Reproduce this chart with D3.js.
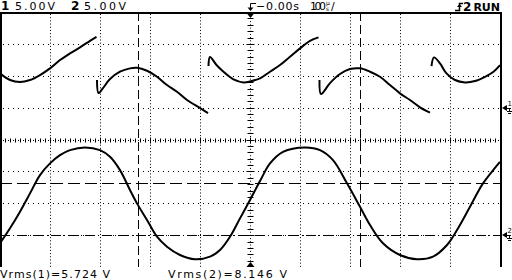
<!DOCTYPE html>
<html>
<head>
<meta charset="utf-8">
<script src="https://cdn.jsdelivr.net/npm/d3@7"></script>
<style>
  body { margin: 0; background: #fff; }
  svg { display: block; }
  text { font-family: "DejaVu Sans", sans-serif; fill: #000; }
</style>
</head>
<body>
<svg id="scope" width="512" height="280"></svg>
<script>
// time base 100us/div, both channels 5V/div
const timeRange = [-500, 500]
const ch1Range = [-25, 15]   // volts, bottom -> top of screen
const ch2Range = [-5, 35]

// channel 1 trace (us, V) - split where the trace jumps
const ch1Seg1 = [[-500, 5.37], [-480, 4.33], [-460, 4.01], [-440, 4.33], [-420, 5.11], [-400, 6.16], [-380, 7.46], [-360, 8.51], [-340, 9.45], [-320, 10.48], [-307, 11.11]]
const ch1Seg2 = [[-306, 4.33], [-303, 2.29], [-294, 3.07], [-280, 4.48], [-260, 5.63], [-240, 6.16], [-226, 6.25], [-206, 5.78], [-186, 4.84], [-166, 3.54], [-146, 2.49], [-126, 1.19], [-100, -0.06], [-84, -0.85]]
const ch1Seg3 = [[-83, 6.52], [-80, 7.93], [-67, 6.68], [-53, 5.63], [-33, 4.43], [-13, 3.96], [3, 4.17], [20, 4.59], [40, 5.63], [60, 6.68], [80, 7.98], [100, 9.29], [120, 10.48], [137, 11.02]]
const ch1Seg4 = [[139, 4.33], [142, 2.13], [160, 3.85], [180, 5.27], [200, 6.05], [220, 6.16], [240, 5.63], [260, 4.84], [280, 3.54], [300, 2.24], [320, 1.19], [340, 0.05], [360, -0.80]]
const ch1Seg5 = [[363, 6.52], [368, 7.88], [380, 6.94], [393, 5.37], [410, 4.33], [430, 3.96], [450, 4.17], [470, 4.84], [487, 5.63], [500, 6.68]]

// channel 2 trace
const ch2Time = [-500, -480, -460, -440, -420, -400, -380, -360, -330, -300, -280, -260, -240, -226, -206, -186, -166, -140, -110, -80, -60, -40, -20, 0, 20, 40, 66, 110, 140, 166, 194, 220, 240, 266, 300, 334, 366, 394, 414, 440, 466, 500]
const ch2Volts = [-1.28, 1.07, 3.67, 6.55, 9.42, 11.25, 12.55, 13.34, 13.76, 13.34, 12.29, 10.20, 7.07, 4.98, 2.37, -0.25, -1.82, -3.12, -3.79, -3.38, -2.33, -0.25, 2.63, 5.50, 8.48, 11.25, 13.07, 13.76, 13.34, 11.77, 8.12, 4.45, 1.58, -1.28, -3.12, -3.79, -3.38, -1.55, 0.80, 4.45, 8.12, 11.50]

// cursors
const timeCursors = [-225, 220]
const ch2Cursor = 8.146
const ch2Ground = 0

const svg = d3.select("#scope")

const x = d3.scaleLinear().domain(timeRange).range([0, 500])
const y1 = d3.scaleLinear().domain(ch1Range).range([267, 12])
const y2 = d3.scaleLinear().domain(ch2Range).range([267, 12])

const scrTop = 12, scrBottom = 267, scrLeft = 0, scrRight = 500
const cx = x(0), cy = (scrTop + scrBottom) / 2

// grid
var grid = svg.append("g")
var vDivs = d3.range(-400, 401, 100).filter(d => d != 0)
grid.selectAll(".vg").data(vDivs).join("line")
    .attr("x1", d => Math.round(x(d)) + 0.5).attr("x2", d => Math.round(x(d)) + 0.5)
    .attr("y1", scrTop + 2).attr("y2", scrBottom)
    .attr("stroke", "#000").attr("stroke-dasharray", "1," + (31.875 / 10 - 1))
var hDivs = d3.range(-20, 11, 5).filter(d => d != -5)
grid.selectAll(".hg").data(hDivs).join("line")
    .attr("x1", scrLeft + 3).attr("x2", scrRight)
    .attr("y1", d => Math.round(y1(d)) + 0.5).attr("y2", d => Math.round(y1(d)) + 0.5)
    .attr("stroke", "#000").attr("stroke-dasharray", "1,4")

// centre axes with minor ticks
var hy = Math.round(cy) + 0.5
grid.append("line").attr("x1", scrLeft + 3).attr("x2", scrRight).attr("y1", hy).attr("y2", hy)
    .attr("stroke", "#000").attr("stroke-dasharray", "1,4")
grid.selectAll(".ht").data(d3.range(-490, 500, 10)).join("line")
    .attr("x1", d => Math.round(x(d)) + 0.5).attr("x2", d => Math.round(x(d)) + 0.5)
    .attr("y1", d => d % 100 == 0 ? hy - 3 : hy - 2).attr("y2", d => d % 100 == 0 ? hy + 3 : hy + 2)
    .attr("stroke", "#000")
var vx = Math.round(cx) + 0.5
grid.append("line").attr("x1", vx).attr("x2", vx).attr("y1", scrTop + 6).attr("y2", scrBottom - 6)
    .attr("stroke", "#000").attr("stroke-dasharray", "1,2.19")
grid.selectAll(".vt").data(d3.range(1, 40)).join("line")
    .attr("x1", d => d % 5 == 0 ? vx - 4 : vx - 3).attr("x2", d => d % 5 == 0 ? vx + 4 : vx + 3)
    .attr("y1", d => Math.round(scrTop + d * 255 / 40) + 0.5).attr("y2", d => Math.round(scrTop + d * 255 / 40) + 0.5)
    .attr("stroke", "#000")

// trigger position markers
svg.append("path").attr("d", `M${cx - 3.5},${scrTop + 1}L${cx + 4.5},${scrTop + 1}L${cx + 0.5},${scrTop + 6}Z`).attr("fill", "#000")
svg.append("path").attr("d", `M${cx - 3.5},${scrBottom}L${cx + 4.5},${scrBottom}L${cx + 0.5},${scrBottom - 5}Z`).attr("fill", "#000")

// cursors
svg.selectAll(".tc").data(timeCursors).join("line")
    .attr("x1", d => Math.round(x(d)) + 0.5).attr("x2", d => Math.round(x(d)) + 0.5)
    .attr("y1", scrTop).attr("y2", scrBottom)
    .attr("stroke", "#000").attr("stroke-dasharray", "9,4")
svg.append("line").attr("x1", scrLeft).attr("x2", scrRight)
    .attr("y1", Math.round(y2(ch2Cursor)) + 0.5).attr("y2", Math.round(y2(ch2Cursor)) + 0.5)
    .attr("stroke", "#000").attr("stroke-dasharray", "12,5")
svg.append("line").attr("x1", scrLeft).attr("x2", scrRight)
    .attr("y1", Math.round(y2(ch2Ground)) + 0.5).attr("y2", Math.round(y2(ch2Ground)) + 0.5)
    .attr("stroke", "#000").attr("stroke-dasharray", "10,3,1,3")

// frame
svg.append("path").attr("d", `M${scrLeft + 1},${scrBottom}V${scrTop + 1}H${scrRight + 1}V${scrBottom}`)
    .attr("fill", "none").attr("stroke", "#000").attr("stroke-width", 2)

// traces
var line1 = d3.line().x(d => x(d[0])).y(d => y1(d[1])).curve(d3.curveCatmullRom)
svg.selectAll(".ch1").data([ch1Seg1, ch1Seg2, ch1Seg3, ch1Seg4, ch1Seg5]).join("path")
    .attr("d", line1).attr("fill", "none").attr("stroke", "#000").attr("stroke-width", 2)

var line2 = d3.line().x((d, i) => x(ch2Time[i])).y(d => y2(d)).curve(d3.curveCatmullRom)
svg.append("path").datum(ch2Volts).attr("d", line2)
    .attr("fill", "none").attr("stroke", "#000").attr("stroke-width", 2)

// channel ground markers at the right edge
function groundMarker(yy, label) {
    var g = svg.append("g")
    g.append("path").attr("d", `M${scrRight + 2},${yy}L${scrRight + 7},${yy - 3}L${scrRight + 7},${yy + 3}Z`).attr("fill", "#000")
    g.append("line").attr("x1", scrRight + 7).attr("x2", scrRight + 11).attr("y1", yy + 0.5).attr("y2", yy + 0.5).attr("stroke", "#000")
    g.append("line").attr("x1", scrRight + 9.5).attr("x2", scrRight + 9.5).attr("y1", yy).attr("y2", yy + 3).attr("stroke", "#000")
    g.append("line").attr("x1", scrRight + 7).attr("x2", scrRight + 12).attr("y1", yy + 3.5).attr("y2", yy + 3.5).attr("stroke", "#000")
    g.append("line").attr("x1", scrRight + 8).attr("x2", scrRight + 11).attr("y1", yy + 5.5).attr("y2", yy + 5.5).attr("stroke", "#000")
    g.append("text").attr("x", scrRight + 7.5).attr("y", yy - 2).attr("font-size", 7).text(label)
}
groundMarker(Math.round(y1(0)), "1")
groundMarker(Math.round(y2(0)), "2")

// header
var hdr = svg.append("g").attr("font-size", 11)
hdr.append("text").attr("x", 1).attr("y", 10).attr("font-weight", "bold").attr("font-size", 12).text("1")
hdr.append("text").attr("x", 15).attr("y", 10).attr("textLength", 40).text("5.00V")
hdr.append("text").attr("x", 71).attr("y", 10).attr("font-weight", "bold").attr("font-size", 12).text("2")
hdr.append("text").attr("x", 84).attr("y", 10).attr("textLength", 42).text("5.00V")
svg.append("path").attr("d", `M${cx + 6},3.5H${cx + 0.5}V10`).attr("fill", "none").attr("stroke", "#000")
svg.append("path").attr("d", `M${cx - 2.5},7.5L${cx + 0.5},11L${cx + 3.5},7.5Z`).attr("fill", "#000")
hdr.append("text").attr("x", 256).attr("y", 10).attr("textLength", 43).text("\u22120.00s")
hdr.append("text").attr("x", 310).attr("y", 10).attr("textLength", 16).text("100")
hdr.append("text").attr("x", 326).attr("y", 5).attr("font-size", 6).text("\u00b5")
hdr.append("text").attr("x", 326).attr("y", 11).attr("font-size", 6).text("s")
hdr.append("text").attr("x", 331).attr("y", 10).text("/")
svg.append("path").attr("d", "M455,10.5H459.5V3.5H463").attr("fill", "none").attr("stroke", "#000").attr("stroke-width", 1.5)
svg.append("path").attr("d", "M457,7L459.5,4L462,7Z").attr("fill", "#000")
hdr.append("text").attr("x", 463).attr("y", 11).attr("font-weight", "bold").attr("font-size", 12).text("2")
hdr.append("text").attr("x", 500).attr("y", 11).attr("text-anchor", "end").attr("font-weight", "bold").attr("font-size", 11).text("RUN")

// measurements
var ftr = svg.append("g").attr("font-size", 11)
ftr.append("text").attr("x", 0).attr("y", 278).attr("textLength", 110).text("Vrms(1)=5.724 V")
ftr.append("text").attr("x", 168).attr("y", 278).attr("textLength", 119).text("Vrms(2)=8.146 V")
</script>
</body>
</html>
